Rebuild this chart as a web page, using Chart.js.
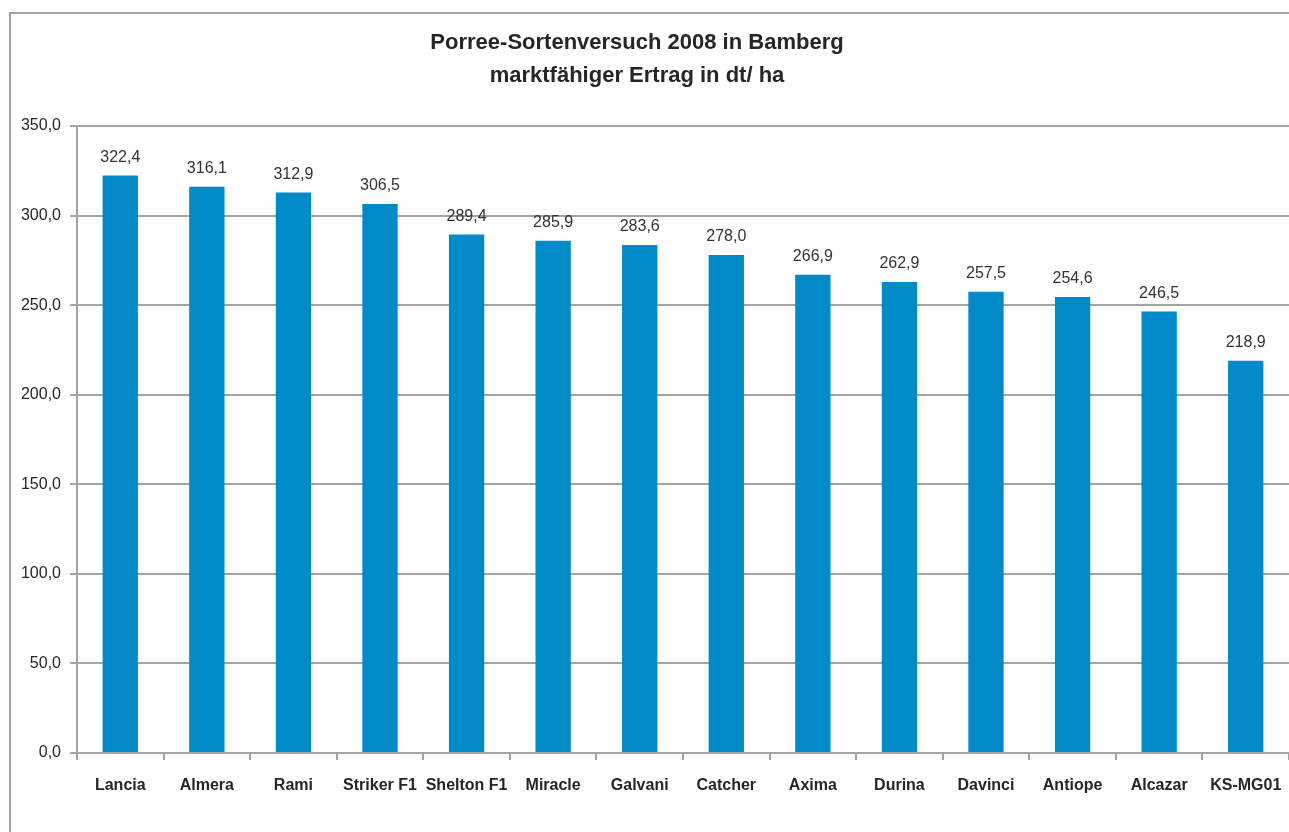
<!DOCTYPE html>
<html>
<head>
<meta charset="utf-8">
<title>Porree-Sortenversuch 2008 in Bamberg</title>
<script src="https://cdn.jsdelivr.net/npm/chart.js@4.4.1/dist/chart.umd.min.js"></script>
<style>
    body { margin: 0; background: #ffffff; }
    #box { position: relative; width: 1289px; height: 832px; }
</style>
</head>
<body>
<div id="box"><canvas id="myChart"></canvas></div>
<script>
// Daten: marktfähiger Ertrag in dt/ha
const sorten = ['Lancia', 'Almera', 'Rami', 'Striker F1', 'Shelton F1', 'Miracle', 'Galvani',
    'Catcher', 'Axima', 'Durina', 'Davinci', 'Antiope', 'Alcazar', 'KS-MG01'];
const ertrag = [322.4, 316.1, 312.9, 306.5, 289.4, 285.9, 283.6, 278.0, 266.9, 262.9, 257.5, 254.6, 246.5, 218.9];
const titelZeilen = ['Porree-Sortenversuch 2008 in Bamberg', 'marktfähiger Ertrag in dt/ ha'];

const grau = '#a3a3a6';
const komma = (v) => Number(v).toFixed(1).replace('.', ',');

// Rahmen, Titel und Werte über den Balken
const extras = {
    id: 'extras',
    beforeDraw: (chart) => {
        const ctx = chart.ctx;
        ctx.save();
        ctx.strokeStyle = grau;
        ctx.lineWidth = 2;
        ctx.strokeRect(10, 13, 1400, 1000);
        ctx.restore();
    },
    afterDatasetsDraw: (chart) => {
        const ctx = chart.ctx;
        ctx.save();
        ctx.fillStyle = '#262626';
        ctx.textAlign = 'center';
        ctx.textBaseline = 'alphabetic';
        ctx.font = 'bold 22px "Liberation Sans", Arial, sans-serif';
        ctx.fillText(titelZeilen[0], 637, 49);
        ctx.fillText(titelZeilen[1], 637, 82);

        ctx.fillStyle = '#333333';
        ctx.font = '16px "Liberation Sans", Arial, sans-serif';
        ctx.textBaseline = 'middle';
        chart.getDatasetMeta(0).data.forEach((bar, i) => {
            ctx.fillText(komma(ertrag[i]), bar.x, bar.y - 18);
        });
        ctx.restore();
    }
};

var ctx1 = document.getElementById('myChart').getContext('2d');
var myChart = new Chart(ctx1, {
    type: 'bar',
    data: {
        labels: sorten,
        datasets: [{
            label: 'marktfähiger Ertrag',
            data: ertrag,
            backgroundColor: '#008bc8',
            borderWidth: 0,
            barPercentage: 0.408,
            categoryPercentage: 1.0
        }]
    },
    options: {
        responsive: true,
        maintainAspectRatio: false,
        animation: false,
        layout: {
            padding: { top: 126, left: 0, right: 0, bottom: 0 }
        },
        plugins: {
            legend: { display: false },
            title: { display: false },
            tooltip: { enabled: false }
        },
        scales: {
            x: {
                afterFit: (scale) => {
                    scale.height = 79;
                    scale.paddingLeft = 0;
                    scale.paddingRight = 0;
                },
                grid: {
                    drawOnChartArea: false,
                    drawTicks: true,
                    tickLength: 7,
                    color: grau,
                    lineWidth: 2
                },
                border: { color: grau, width: 2 },
                ticks: {
                    color: '#262626',
                    padding: 16,
                    maxRotation: 0,
                    autoSkip: false,
                    font: { family: '"Liberation Sans", Arial, sans-serif', size: 16, weight: 'bold' }
                }
            },
            y: {
                min: 0,
                max: 350,
                afterFit: (scale) => { scale.width = 77; },
                grid: {
                    color: grau,
                    lineWidth: 2,
                    tickLength: 7
                },
                border: { color: grau, width: 2 },
                ticks: {
                    stepSize: 50,
                    padding: 9,
                    color: '#262626',
                    font: { family: '"Liberation Sans", Arial, sans-serif', size: 16 },
                    callback: (value) => komma(value)
                }
            }
        }
    },
    plugins: [extras]
});
</script>
</body>
</html>
